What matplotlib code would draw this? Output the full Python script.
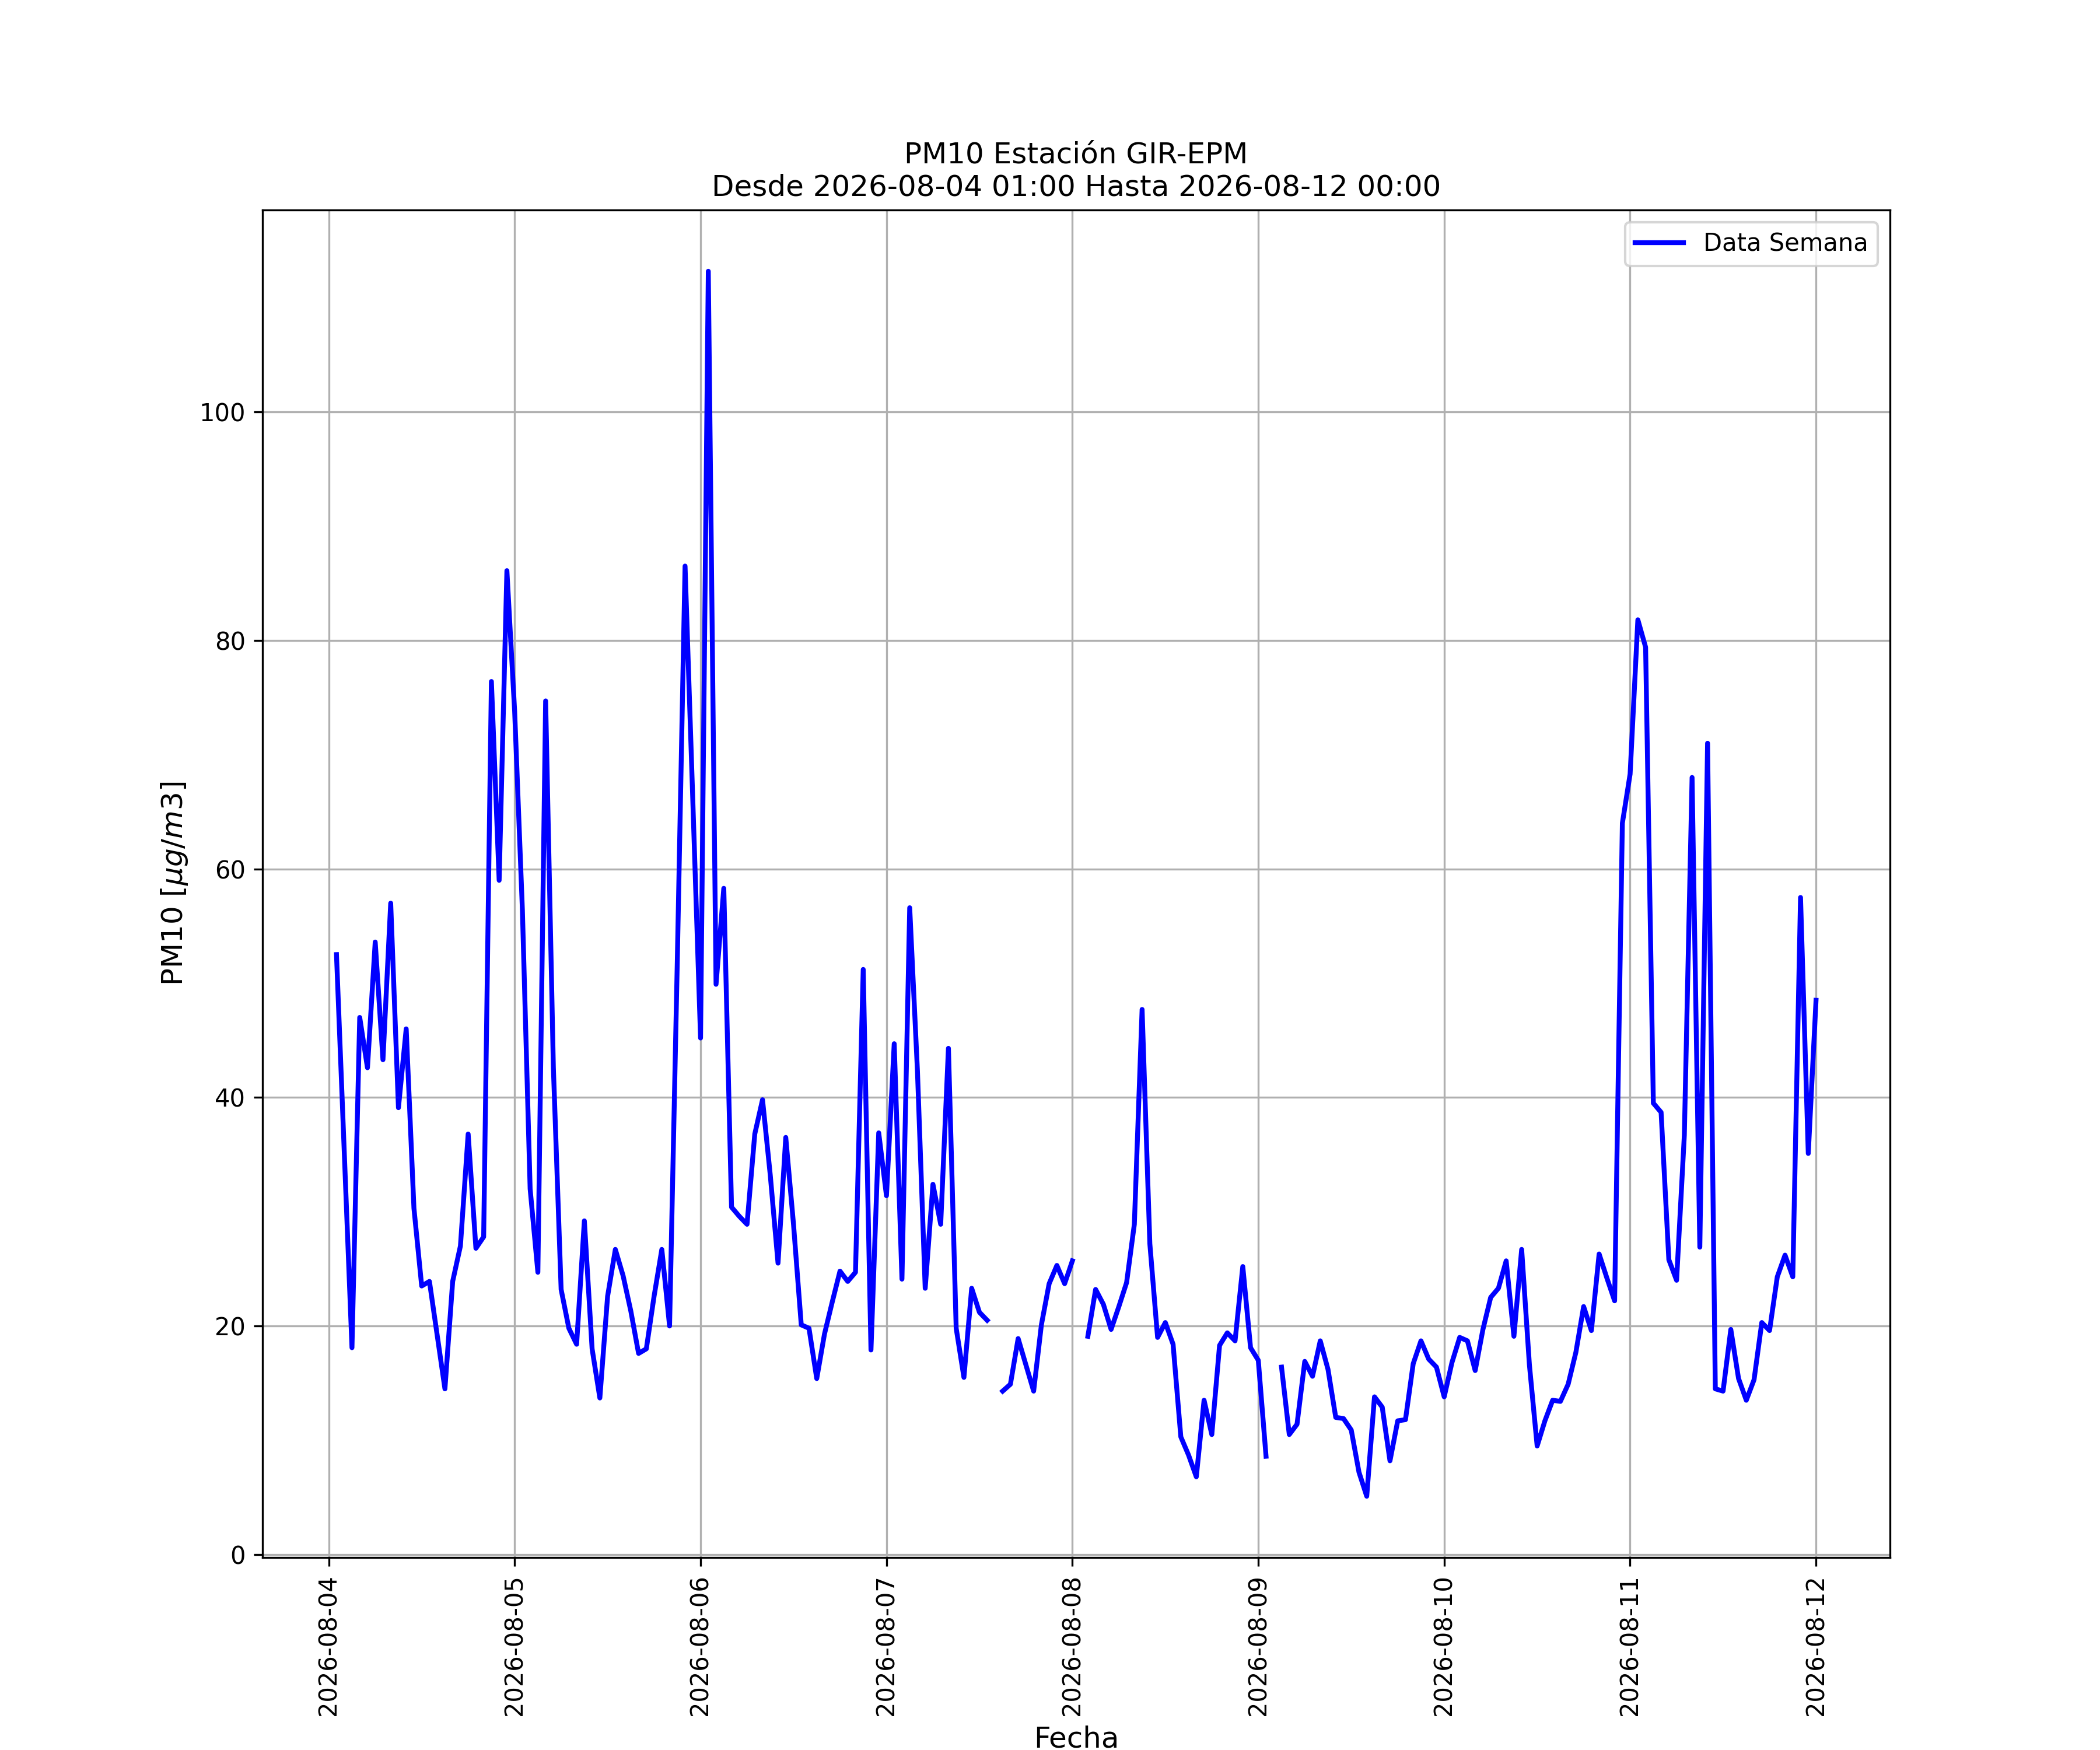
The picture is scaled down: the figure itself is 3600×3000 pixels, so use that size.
import numpy as np
import pandas as pd
import matplotlib
matplotlib.use('Agg')
import matplotlib.pyplot as plt
import matplotlib.dates as mdates

nan = np.nan

# PM10 horario (08-04 01:00 -> 08-12 00:00)
dia_04 = [52.5, 35.3, 18.1, 47.0, 42.6, 53.6, 43.3, 57.0, 39.1, 46.0, 30.3, 23.5,
          23.9, 19.2, 14.5, 23.9, 27.0, 36.8, 26.8, 27.8, 76.4, 59.0, 86.1]
dia_05 = [73.8, 56.4, 32.0, 24.7, 74.7, 42.6, 23.2, 19.8, 18.4, 29.2, 18.0, 13.7,
          22.6, 26.7, 24.4, 21.3, 17.6, 18.0, 22.6, 26.7, 20.0, 52.0, 86.5, 66.0]
dia_06 = [45.2, 112.3, 49.9, 58.3, 30.4, 29.6, 28.9, 36.8, 39.8, 33.2, 25.5, 36.5,
          28.9, 20.1, 19.8, 15.4, 19.3, 22.1, 24.8, 23.9, 24.7, 51.2, 17.9, 36.9]
dia_07 = [31.4, 44.7, 24.1, 56.6, 42.3, 23.3, 32.4, 28.9, 44.3, 19.8, 15.5, 23.3,
          21.2, 20.5, nan, 14.3, 14.9, 18.9, 16.6, 14.3, 20.1, 23.7, 25.3, 23.7]
dia_08 = [25.7, nan, 19.1, 23.2, 21.9, 19.7, 21.7, 23.8, 28.9, 47.7, 27.2, 19.0,
          20.3, 18.4, 10.3, 8.7, 6.8, 13.5, 10.5, 18.3, 19.4, 18.7, 25.2, 18.1]
dia_09 = [17.0, 8.6, nan, 16.4, 10.5, 11.4, 16.9, 15.6, 18.7, 16.2, 12.0, 11.9,
          10.9, 7.2, 5.1, 13.8, 12.9, 8.2, 11.7, 11.8, 16.7, 18.7, 17.1, 16.4]
dia_10 = [13.8, 16.8, 19.0, 18.7, 16.1, 19.7, 22.5, 23.3, 25.7, 19.1, 26.7, 16.6,
          9.5, 11.7, 13.5, 13.4, 14.9, 17.7, 21.7, 19.6, 26.3, 24.2, 22.2, 64.0]
dia_11 = [68.3, 81.8, 79.4, 39.5, 38.7, 25.8, 24.0, 36.7, 68.0, 26.9, 71.0, 14.5,
          14.3, 19.7, 15.4, 13.5, 15.3, 20.3, 19.6, 24.3, 26.2, 24.3, 57.5, 35.1]
dia_12 = [48.5]

pm10 = dia_04 + dia_05 + dia_06 + dia_07 + dia_08 + dia_09 + dia_10 + dia_11 + dia_12
fechas = pd.date_range('2026-08-04 01:00', '2026-08-12 00:00', freq='h')

fig, ax = plt.subplots(figsize=(12, 10))
ax.plot(fechas, pm10, color='blue', lw=2, label='Data Semana')
ax.set_title('PM10 Estación GIR-EPM\nDesde 2026-08-04 01:00 Hasta 2026-08-12 00:00', fontsize=12)
ax.set_xlabel('Fecha', fontsize=12)
ax.set_ylabel(r'PM10 [$\mu g/m3$]', fontsize=12)
ax.xaxis.set_major_locator(mdates.DayLocator())
ax.xaxis.set_major_formatter(mdates.DateFormatter('%Y-%m-%d'))
plt.setp(ax.get_xticklabels(), rotation=90)
ax.grid(True)
ax.legend(loc='upper right')
fig.savefig('out.png', dpi=300)
